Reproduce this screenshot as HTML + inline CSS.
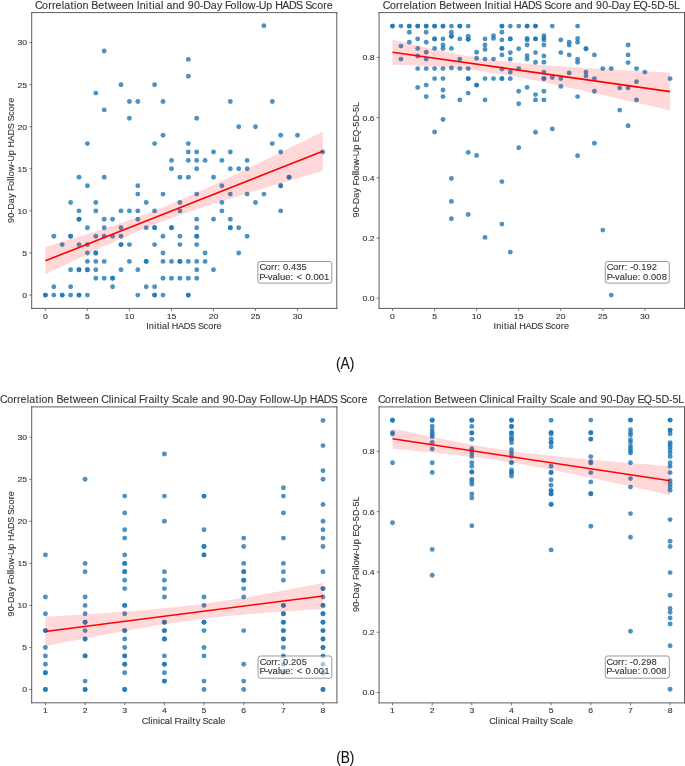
<!DOCTYPE html><html><head><meta charset="utf-8"><style>html,body{margin:0;padding:0;background:#fff;width:685px;height:766px;overflow:hidden}svg{display:block;will-change:transform}text{font-family:"Liberation Sans",sans-serif}</style></head><body><svg width="685" height="766" viewBox="0 0 685 766" font-family='"Liberation Sans", sans-serif'><rect width="685" height="766" fill="#fff"/><g fill="#1f77b4" fill-opacity="0.8"><circle cx="104.2" cy="51.0" r="2.45"/><circle cx="188.3" cy="59.4" r="2.45"/><circle cx="188.3" cy="76.3" r="2.45"/><circle cx="121.0" cy="84.7" r="2.45"/><circle cx="154.6" cy="84.7" r="2.45"/><circle cx="95.8" cy="93.1" r="2.45"/><circle cx="129.4" cy="101.5" r="2.45"/><circle cx="137.8" cy="101.5" r="2.45"/><circle cx="163.0" cy="101.5" r="2.45"/><circle cx="104.2" cy="109.9" r="2.45"/><circle cx="129.4" cy="118.3" r="2.45"/><circle cx="163.0" cy="135.2" r="2.45"/><circle cx="87.4" cy="143.6" r="2.45"/><circle cx="154.6" cy="143.6" r="2.45"/><circle cx="188.3" cy="143.6" r="2.45"/><circle cx="188.3" cy="152.0" r="2.45"/><circle cx="171.5" cy="160.4" r="2.45"/><circle cx="188.3" cy="160.4" r="2.45"/><circle cx="263.9" cy="25.8" r="2.45"/><circle cx="230.3" cy="101.5" r="2.45"/><circle cx="272.3" cy="101.5" r="2.45"/><circle cx="196.7" cy="118.3" r="2.45"/><circle cx="238.7" cy="126.8" r="2.45"/><circle cx="255.5" cy="126.8" r="2.45"/><circle cx="280.7" cy="135.2" r="2.45"/><circle cx="297.5" cy="135.2" r="2.45"/><circle cx="272.3" cy="143.6" r="2.45"/><circle cx="196.7" cy="152.0" r="2.45"/><circle cx="213.5" cy="152.0" r="2.45"/><circle cx="230.3" cy="152.0" r="2.45"/><circle cx="280.7" cy="152.0" r="2.45"/><circle cx="322.7" cy="152.0" r="2.45"/><circle cx="196.7" cy="160.4" r="2.45"/><circle cx="205.1" cy="160.4" r="2.45"/><circle cx="221.9" cy="160.4" r="2.45"/><circle cx="247.1" cy="160.4" r="2.45"/><circle cx="171.5" cy="168.8" r="2.45"/><circle cx="79.0" cy="177.3" r="2.45"/><circle cx="104.2" cy="177.3" r="2.45"/><circle cx="179.9" cy="177.3" r="2.45"/><circle cx="188.3" cy="177.3" r="2.45"/><circle cx="87.4" cy="185.7" r="2.45"/><circle cx="137.8" cy="185.7" r="2.45"/><circle cx="137.8" cy="194.1" r="2.45"/><circle cx="163.0" cy="194.1" r="2.45"/><circle cx="70.6" cy="202.5" r="2.45"/><circle cx="95.8" cy="202.5" r="2.45"/><circle cx="146.2" cy="202.5" r="2.45"/><circle cx="179.9" cy="202.5" r="2.45"/><circle cx="79.0" cy="210.9" r="2.45"/><circle cx="95.8" cy="210.9" r="2.45"/><circle cx="121.0" cy="210.9" r="2.45"/><circle cx="129.4" cy="210.9" r="2.45"/><circle cx="137.8" cy="210.9" r="2.45"/><circle cx="154.6" cy="210.9" r="2.45"/><circle cx="179.9" cy="210.9" r="2.45"/><circle cx="79.0" cy="219.3" r="2.45"/><circle cx="79.0" cy="219.3" r="2.45"/><circle cx="104.2" cy="219.3" r="2.45"/><circle cx="112.6" cy="219.3" r="2.45"/><circle cx="137.8" cy="219.3" r="2.45"/><circle cx="87.4" cy="227.8" r="2.45"/><circle cx="104.2" cy="227.8" r="2.45"/><circle cx="121.0" cy="227.8" r="2.45"/><circle cx="146.2" cy="227.8" r="2.45"/><circle cx="154.6" cy="227.8" r="2.45"/><circle cx="154.6" cy="227.8" r="2.45"/><circle cx="171.5" cy="227.8" r="2.45"/><circle cx="171.5" cy="227.8" r="2.45"/><circle cx="53.8" cy="236.2" r="2.45"/><circle cx="70.6" cy="236.2" r="2.45"/><circle cx="70.6" cy="236.2" r="2.45"/><circle cx="95.8" cy="236.2" r="2.45"/><circle cx="104.2" cy="236.2" r="2.45"/><circle cx="112.6" cy="236.2" r="2.45"/><circle cx="121.0" cy="236.2" r="2.45"/><circle cx="163.0" cy="236.2" r="2.45"/><circle cx="179.9" cy="236.2" r="2.45"/><circle cx="62.2" cy="244.6" r="2.45"/><circle cx="79.0" cy="244.6" r="2.45"/><circle cx="87.4" cy="244.6" r="2.45"/><circle cx="121.0" cy="244.6" r="2.45"/><circle cx="121.0" cy="244.6" r="2.45"/><circle cx="129.4" cy="244.6" r="2.45"/><circle cx="154.6" cy="244.6" r="2.45"/><circle cx="179.9" cy="244.6" r="2.45"/><circle cx="87.4" cy="253.0" r="2.45"/><circle cx="95.8" cy="253.0" r="2.45"/><circle cx="95.8" cy="253.0" r="2.45"/><circle cx="163.0" cy="253.0" r="2.45"/><circle cx="87.4" cy="261.4" r="2.45"/><circle cx="95.8" cy="261.4" r="2.45"/><circle cx="104.2" cy="261.4" r="2.45"/><circle cx="129.4" cy="261.4" r="2.45"/><circle cx="146.2" cy="261.4" r="2.45"/><circle cx="146.2" cy="261.4" r="2.45"/><circle cx="163.0" cy="261.4" r="2.45"/><circle cx="171.5" cy="261.4" r="2.45"/><circle cx="179.9" cy="261.4" r="2.45"/><circle cx="179.9" cy="261.4" r="2.45"/><circle cx="188.3" cy="261.4" r="2.45"/><circle cx="70.6" cy="269.8" r="2.45"/><circle cx="79.0" cy="269.8" r="2.45"/><circle cx="79.0" cy="269.8" r="2.45"/><circle cx="87.4" cy="269.8" r="2.45"/><circle cx="87.4" cy="269.8" r="2.45"/><circle cx="95.8" cy="269.8" r="2.45"/><circle cx="121.0" cy="269.8" r="2.45"/><circle cx="137.8" cy="269.8" r="2.45"/><circle cx="95.8" cy="278.3" r="2.45"/><circle cx="104.2" cy="278.3" r="2.45"/><circle cx="112.6" cy="278.3" r="2.45"/><circle cx="112.6" cy="278.3" r="2.45"/><circle cx="163.0" cy="278.3" r="2.45"/><circle cx="171.5" cy="278.3" r="2.45"/><circle cx="179.9" cy="278.3" r="2.45"/><circle cx="188.3" cy="278.3" r="2.45"/><circle cx="53.8" cy="286.7" r="2.45"/><circle cx="70.6" cy="286.7" r="2.45"/><circle cx="112.6" cy="286.7" r="2.45"/><circle cx="146.2" cy="286.7" r="2.45"/><circle cx="154.6" cy="286.7" r="2.45"/><circle cx="45.4" cy="295.1" r="2.45"/><circle cx="45.4" cy="295.1" r="2.45"/><circle cx="53.8" cy="295.1" r="2.45"/><circle cx="62.2" cy="295.1" r="2.45"/><circle cx="62.2" cy="295.1" r="2.45"/><circle cx="70.6" cy="295.1" r="2.45"/><circle cx="79.0" cy="295.1" r="2.45"/><circle cx="79.0" cy="295.1" r="2.45"/><circle cx="87.4" cy="295.1" r="2.45"/><circle cx="137.8" cy="295.1" r="2.45"/><circle cx="154.6" cy="295.1" r="2.45"/><circle cx="154.6" cy="295.1" r="2.45"/><circle cx="163.0" cy="295.1" r="2.45"/><circle cx="188.3" cy="295.1" r="2.45"/><circle cx="188.3" cy="295.1" r="2.45"/><circle cx="196.7" cy="168.8" r="2.45"/><circle cx="230.3" cy="168.8" r="2.45"/><circle cx="238.7" cy="168.8" r="2.45"/><circle cx="247.1" cy="168.8" r="2.45"/><circle cx="213.5" cy="177.3" r="2.45"/><circle cx="289.1" cy="177.3" r="2.45"/><circle cx="289.1" cy="177.3" r="2.45"/><circle cx="221.9" cy="185.7" r="2.45"/><circle cx="280.7" cy="185.7" r="2.45"/><circle cx="280.7" cy="185.7" r="2.45"/><circle cx="196.7" cy="194.1" r="2.45"/><circle cx="230.3" cy="194.1" r="2.45"/><circle cx="247.1" cy="194.1" r="2.45"/><circle cx="263.9" cy="194.1" r="2.45"/><circle cx="221.9" cy="202.5" r="2.45"/><circle cx="255.5" cy="202.5" r="2.45"/><circle cx="221.9" cy="210.9" r="2.45"/><circle cx="280.7" cy="210.9" r="2.45"/><circle cx="196.7" cy="219.3" r="2.45"/><circle cx="213.5" cy="219.3" r="2.45"/><circle cx="230.3" cy="219.3" r="2.45"/><circle cx="196.7" cy="227.8" r="2.45"/><circle cx="230.3" cy="227.8" r="2.45"/><circle cx="230.3" cy="227.8" r="2.45"/><circle cx="238.7" cy="227.8" r="2.45"/><circle cx="196.7" cy="236.2" r="2.45"/><circle cx="196.7" cy="236.2" r="2.45"/><circle cx="247.1" cy="236.2" r="2.45"/><circle cx="196.7" cy="244.6" r="2.45"/><circle cx="205.1" cy="253.0" r="2.45"/><circle cx="238.7" cy="253.0" r="2.45"/><circle cx="196.7" cy="261.4" r="2.45"/><circle cx="205.1" cy="261.4" r="2.45"/><circle cx="196.7" cy="269.8" r="2.45"/><circle cx="213.5" cy="269.8" r="2.45"/><circle cx="196.7" cy="278.3" r="2.45"/></g><path d="M45.38,247.03 L52.31,244.93 L59.25,242.83 L66.18,240.70 L73.12,238.56 L80.05,236.40 L86.98,234.22 L93.92,232.01 L100.85,229.77 L107.79,227.50 L114.72,225.18 L121.66,222.81 L128.59,220.38 L135.52,217.89 L142.46,215.33 L149.39,212.70 L156.33,209.98 L163.26,207.18 L170.19,204.31 L177.13,201.36 L184.06,198.33 L191.00,195.25 L197.93,192.11 L204.86,188.93 L211.80,185.71 L218.73,182.45 L225.67,179.16 L232.60,175.85 L239.54,172.51 L246.47,169.16 L253.40,165.80 L260.34,162.42 L267.27,159.02 L274.21,155.62 L281.14,152.21 L288.07,148.80 L295.01,145.37 L301.94,141.94 L308.88,138.51 L315.81,135.07 L322.74,131.62 L322.74,171.02 L315.81,173.05 L308.88,175.08 L301.94,177.12 L295.01,179.16 L288.07,181.20 L281.14,183.26 L274.21,185.32 L267.27,187.39 L260.34,189.47 L253.40,191.56 L246.47,193.67 L239.54,195.79 L232.60,197.93 L225.67,200.09 L218.73,202.27 L211.80,204.49 L204.86,206.73 L197.93,209.02 L191.00,211.36 L184.06,213.75 L177.13,216.20 L170.19,218.72 L163.26,221.31 L156.33,223.99 L149.39,226.74 L142.46,229.58 L135.52,232.49 L128.59,235.47 L121.66,238.52 L114.72,241.62 L107.79,244.77 L100.85,247.97 L93.92,251.20 L86.98,254.47 L80.05,257.76 L73.12,261.07 L66.18,264.40 L59.25,267.75 L52.31,271.11 L45.38,274.49 Z" fill="#ff0000" fill-opacity="0.15"/><line x1="45.38" y1="260.76" x2="322.74" y2="151.32" stroke="#ff0000" stroke-width="1.6"/><path d="M31.7,12.1 V308.9 M336.8,12.1 V308.9 M31.2,12.6 H337.3 M31.2,308.4 H337.3" fill="none" stroke="#555" stroke-width="0.95"/><line x1="45.38" y1="308.4" x2="45.38" y2="310.79999999999995" stroke="#555" stroke-width="0.8"/><text x="39.82" y="319.0" font-size="8.014" fill="#333333" stroke="#333333" stroke-width="0.1" transform="scale(1.0792,1)">0</text><line x1="87.41" y1="308.4" x2="87.41" y2="310.79999999999995" stroke="#555" stroke-width="0.8"/><text x="78.76" y="319.0" font-size="8.014" fill="#333333" stroke="#333333" stroke-width="0.1" transform="scale(1.0792,1)">5</text><line x1="129.43" y1="308.4" x2="129.43" y2="310.79999999999995" stroke="#555" stroke-width="0.8"/><text x="115.47 119.93" y="319.0" font-size="8.014" fill="#333333" stroke="#333333" stroke-width="0.1" transform="scale(1.0792,1)">10</text><line x1="171.45" y1="308.4" x2="171.45" y2="310.79999999999995" stroke="#555" stroke-width="0.8"/><text x="154.41 158.87" y="319.0" font-size="8.014" fill="#333333" stroke="#333333" stroke-width="0.1" transform="scale(1.0792,1)">15</text><line x1="213.48" y1="308.4" x2="213.48" y2="310.79999999999995" stroke="#555" stroke-width="0.8"/><text x="193.35 197.81" y="319.0" font-size="8.014" fill="#333333" stroke="#333333" stroke-width="0.1" transform="scale(1.0792,1)">20</text><line x1="255.50" y1="308.4" x2="255.50" y2="310.79999999999995" stroke="#555" stroke-width="0.8"/><text x="232.29 236.75" y="319.0" font-size="8.014" fill="#333333" stroke="#333333" stroke-width="0.1" transform="scale(1.0792,1)">25</text><line x1="297.53" y1="308.4" x2="297.53" y2="310.79999999999995" stroke="#555" stroke-width="0.8"/><text x="271.23 275.69" y="319.0" font-size="8.014" fill="#333333" stroke="#333333" stroke-width="0.1" transform="scale(1.0792,1)">30</text><line x1="29.3" y1="295.10" x2="31.7" y2="295.10" stroke="#555" stroke-width="0.8"/><text x="20.70" y="298.00" font-size="8.014" fill="#333333" stroke="#333333" stroke-width="0.1" transform="scale(1.0792,1)">0</text><line x1="29.3" y1="253.02" x2="31.7" y2="253.02" stroke="#555" stroke-width="0.8"/><text x="20.70" y="255.92" font-size="8.014" fill="#333333" stroke="#333333" stroke-width="0.1" transform="scale(1.0792,1)">5</text><line x1="29.3" y1="210.93" x2="31.7" y2="210.93" stroke="#555" stroke-width="0.8"/><text x="16.24 20.70" y="213.83" font-size="8.014" fill="#333333" stroke="#333333" stroke-width="0.1" transform="scale(1.0792,1)">10</text><line x1="29.3" y1="168.85" x2="31.7" y2="168.85" stroke="#555" stroke-width="0.8"/><text x="16.24 20.70" y="171.75" font-size="8.014" fill="#333333" stroke="#333333" stroke-width="0.1" transform="scale(1.0792,1)">15</text><line x1="29.3" y1="126.76" x2="31.7" y2="126.76" stroke="#555" stroke-width="0.8"/><text x="16.24 20.70" y="129.66" font-size="8.014" fill="#333333" stroke="#333333" stroke-width="0.1" transform="scale(1.0792,1)">20</text><line x1="29.3" y1="84.68" x2="31.7" y2="84.68" stroke="#555" stroke-width="0.8"/><text x="16.24 20.70" y="87.58" font-size="8.014" fill="#333333" stroke="#333333" stroke-width="0.1" transform="scale(1.0792,1)">25</text><line x1="29.3" y1="42.59" x2="31.7" y2="42.59" stroke="#555" stroke-width="0.8"/><text x="16.24 20.70" y="45.49" font-size="8.014" fill="#333333" stroke="#333333" stroke-width="0.1" transform="scale(1.0792,1)">30</text><text x="141.94 144.47 149.63 152.09 155.04 157.17 162.24 164.41 166.77 172.82 178.45 184.37 189.94 192.07 197.60 202.05 207.17 210.15" y="329.0" font-size="8.830" fill="#333333" stroke="#333333" stroke-width="0.1" transform="scale(1.0304,1)">Initial HADS Score</text><g transform="translate(13.75,160.45) rotate(-90)"><text x="-61.48 -56.28 -51.22 -48.31 -41.93 -36.76 -32.06 -29.88 -25.08 -19.97 -17.69 -15.53 -10.42 -3.89 -1.14 5.18 10.30 12.71 18.83 24.53 30.51 36.12 38.30 43.88 48.38 53.54 56.57" y="0" font-size="8.830" fill="#333333" stroke="#333333" stroke-width="0.1" transform="scale(1.0191,1)">90-Day Follow-Up HADS Score</text></g><text x="33.38 40.26 46.11 49.73 53.11 58.93 61.32 67.37 70.74 73.13 78.86 84.66 87.29 93.85 99.91 103.21 110.65 116.32 122.06 127.87 130.69 133.54 139.44 142.24 145.61 148.00 153.81 156.26 159.13 164.87 170.70 176.51 179.48 185.34 191.07 194.28 201.50 207.33 212.65 215.06 220.47 226.27 228.83 231.22 236.96 244.37 247.41 254.55 260.35 263.01 269.90 276.31 283.06 289.43 291.83 298.14 303.20 309.04 312.43" y="8.7" font-size="10.208" fill="#333333" stroke="#333333" stroke-width="0.1" transform="scale(1.0461,1)">Correlation Between Initial and 90-Day Follow-Up HADS Score</text><rect x="257.9" y="261.5" width="73.90000000000003" height="21.600000000000023" rx="2.2" fill="#fff" fill-opacity="0.5" stroke="#000" stroke-opacity="0.5" stroke-width="0.8"/><text x="245.10 250.99 256.00 259.09 262.14 264.72 267.24 272.22 274.75 279.75 284.76" y="270.3" font-size="8.830" fill="#333333" stroke="#333333" stroke-width="0.1" transform="scale(1.0589,1)">Corr: 0.435</text><text x="241.56 246.60 249.35 253.78 258.71 260.77 265.62 270.54 273.08 276.21 282.05 284.52 289.45 291.92 296.86 301.79" y="279.6" font-size="8.830" fill="#333333" stroke="#333333" stroke-width="0.1" transform="scale(1.0736,1)">P-value: &lt; 0.001</text><g fill="#1f77b4" fill-opacity="0.8"><circle cx="392.5" cy="26.1" r="2.45"/><circle cx="392.5" cy="26.1" r="2.45"/><circle cx="400.9" cy="26.1" r="2.45"/><circle cx="400.9" cy="46.1" r="2.45"/><circle cx="400.9" cy="59.1" r="2.45"/><circle cx="409.3" cy="26.1" r="2.45"/><circle cx="409.3" cy="26.1" r="2.45"/><circle cx="409.3" cy="32.3" r="2.45"/><circle cx="409.3" cy="42.2" r="2.45"/><circle cx="417.7" cy="26.1" r="2.45"/><circle cx="417.7" cy="26.1" r="2.45"/><circle cx="417.7" cy="38.9" r="2.45"/><circle cx="417.7" cy="48.4" r="2.45"/><circle cx="417.7" cy="56.0" r="2.45"/><circle cx="417.7" cy="68.6" r="2.45"/><circle cx="417.7" cy="87.4" r="2.45"/><circle cx="426.2" cy="26.1" r="2.45"/><circle cx="426.2" cy="26.1" r="2.45"/><circle cx="426.2" cy="32.3" r="2.45"/><circle cx="426.2" cy="42.2" r="2.45"/><circle cx="426.2" cy="52.2" r="2.45"/><circle cx="426.2" cy="59.1" r="2.45"/><circle cx="426.2" cy="68.6" r="2.45"/><circle cx="426.2" cy="85.1" r="2.45"/><circle cx="426.2" cy="96.6" r="2.45"/><circle cx="434.6" cy="26.1" r="2.45"/><circle cx="434.6" cy="26.1" r="2.45"/><circle cx="434.6" cy="38.9" r="2.45"/><circle cx="434.6" cy="38.9" r="2.45"/><circle cx="434.6" cy="48.4" r="2.45"/><circle cx="434.6" cy="68.6" r="2.45"/><circle cx="434.6" cy="78.6" r="2.45"/><circle cx="434.6" cy="132.0" r="2.45"/><circle cx="443.0" cy="26.1" r="2.45"/><circle cx="443.0" cy="26.1" r="2.45"/><circle cx="443.0" cy="38.9" r="2.45"/><circle cx="443.0" cy="45.0" r="2.45"/><circle cx="443.0" cy="48.4" r="2.45"/><circle cx="443.0" cy="68.6" r="2.45"/><circle cx="443.0" cy="78.6" r="2.45"/><circle cx="443.0" cy="90.0" r="2.45"/><circle cx="443.0" cy="96.6" r="2.45"/><circle cx="443.0" cy="119.5" r="2.45"/><circle cx="451.4" cy="26.1" r="2.45"/><circle cx="451.4" cy="32.3" r="2.45"/><circle cx="451.4" cy="36.2" r="2.45"/><circle cx="451.4" cy="36.2" r="2.45"/><circle cx="451.4" cy="48.4" r="2.45"/><circle cx="451.4" cy="68.0" r="2.45"/><circle cx="451.4" cy="178.5" r="2.45"/><circle cx="451.4" cy="201.4" r="2.45"/><circle cx="451.4" cy="218.7" r="2.45"/><circle cx="459.8" cy="26.1" r="2.45"/><circle cx="459.8" cy="26.1" r="2.45"/><circle cx="459.8" cy="38.9" r="2.45"/><circle cx="459.8" cy="59.1" r="2.45"/><circle cx="459.8" cy="68.6" r="2.45"/><circle cx="459.8" cy="99.9" r="2.45"/><circle cx="468.2" cy="26.1" r="2.45"/><circle cx="468.2" cy="36.2" r="2.45"/><circle cx="468.2" cy="39.3" r="2.45"/><circle cx="468.2" cy="39.3" r="2.45"/><circle cx="468.2" cy="68.6" r="2.45"/><circle cx="468.2" cy="78.6" r="2.45"/><circle cx="468.2" cy="78.6" r="2.45"/><circle cx="468.2" cy="93.1" r="2.45"/><circle cx="468.2" cy="152.4" r="2.45"/><circle cx="468.2" cy="214.5" r="2.45"/><circle cx="476.6" cy="52.2" r="2.45"/><circle cx="476.6" cy="58.3" r="2.45"/><circle cx="476.6" cy="85.1" r="2.45"/><circle cx="476.6" cy="85.1" r="2.45"/><circle cx="476.6" cy="155.5" r="2.45"/><circle cx="485.0" cy="38.9" r="2.45"/><circle cx="485.0" cy="45.0" r="2.45"/><circle cx="485.0" cy="49.4" r="2.45"/><circle cx="485.0" cy="59.1" r="2.45"/><circle cx="485.0" cy="78.6" r="2.45"/><circle cx="485.0" cy="99.9" r="2.45"/><circle cx="485.0" cy="237.4" r="2.45"/><circle cx="493.5" cy="35.6" r="2.45"/><circle cx="493.5" cy="38.4" r="2.45"/><circle cx="493.5" cy="59.1" r="2.45"/><circle cx="493.5" cy="78.6" r="2.45"/><circle cx="501.9" cy="26.1" r="2.45"/><circle cx="501.9" cy="26.1" r="2.45"/><circle cx="501.9" cy="32.3" r="2.45"/><circle cx="501.9" cy="39.9" r="2.45"/><circle cx="501.9" cy="48.4" r="2.45"/><circle cx="501.9" cy="48.4" r="2.45"/><circle cx="501.9" cy="54.9" r="2.45"/><circle cx="501.9" cy="69.0" r="2.45"/><circle cx="501.9" cy="78.6" r="2.45"/><circle cx="501.9" cy="78.6" r="2.45"/><circle cx="501.9" cy="181.6" r="2.45"/><circle cx="501.9" cy="224.1" r="2.45"/><circle cx="510.3" cy="26.1" r="2.45"/><circle cx="510.3" cy="38.9" r="2.45"/><circle cx="510.3" cy="38.9" r="2.45"/><circle cx="510.3" cy="52.6" r="2.45"/><circle cx="510.3" cy="59.1" r="2.45"/><circle cx="510.3" cy="72.1" r="2.45"/><circle cx="510.3" cy="78.6" r="2.45"/><circle cx="510.3" cy="252.1" r="2.45"/><circle cx="518.7" cy="26.1" r="2.45"/><circle cx="518.7" cy="48.7" r="2.45"/><circle cx="518.7" cy="68.6" r="2.45"/><circle cx="518.7" cy="91.3" r="2.45"/><circle cx="518.7" cy="103.8" r="2.45"/><circle cx="518.7" cy="147.7" r="2.45"/><circle cx="527.1" cy="26.1" r="2.45"/><circle cx="527.1" cy="26.1" r="2.45"/><circle cx="527.1" cy="38.4" r="2.45"/><circle cx="527.1" cy="39.9" r="2.45"/><circle cx="527.1" cy="45.0" r="2.45"/><circle cx="527.1" cy="55.7" r="2.45"/><circle cx="527.1" cy="59.1" r="2.45"/><circle cx="527.1" cy="87.4" r="2.45"/><circle cx="535.5" cy="26.1" r="2.45"/><circle cx="535.5" cy="26.1" r="2.45"/><circle cx="535.5" cy="38.9" r="2.45"/><circle cx="535.5" cy="38.9" r="2.45"/><circle cx="535.5" cy="52.6" r="2.45"/><circle cx="535.5" cy="62.2" r="2.45"/><circle cx="535.5" cy="94.6" r="2.45"/><circle cx="535.5" cy="99.9" r="2.45"/><circle cx="535.5" cy="132.3" r="2.45"/><circle cx="543.9" cy="35.6" r="2.45"/><circle cx="543.9" cy="38.1" r="2.45"/><circle cx="543.9" cy="39.9" r="2.45"/><circle cx="543.9" cy="45.0" r="2.45"/><circle cx="543.9" cy="56.0" r="2.45"/><circle cx="543.9" cy="62.2" r="2.45"/><circle cx="543.9" cy="72.1" r="2.45"/><circle cx="543.9" cy="78.6" r="2.45"/><circle cx="543.9" cy="78.6" r="2.45"/><circle cx="543.9" cy="91.3" r="2.45"/><circle cx="543.9" cy="99.9" r="2.45"/><circle cx="552.3" cy="26.1" r="2.45"/><circle cx="552.3" cy="77.5" r="2.45"/><circle cx="552.3" cy="128.9" r="2.45"/><circle cx="560.8" cy="39.9" r="2.45"/><circle cx="560.8" cy="52.6" r="2.45"/><circle cx="560.8" cy="78.6" r="2.45"/><circle cx="560.8" cy="86.4" r="2.45"/><circle cx="569.2" cy="42.2" r="2.45"/><circle cx="569.2" cy="45.0" r="2.45"/><circle cx="569.2" cy="54.9" r="2.45"/><circle cx="569.2" cy="72.9" r="2.45"/><circle cx="577.6" cy="26.1" r="2.45"/><circle cx="577.6" cy="38.4" r="2.45"/><circle cx="577.6" cy="42.2" r="2.45"/><circle cx="577.6" cy="59.1" r="2.45"/><circle cx="577.6" cy="62.2" r="2.45"/><circle cx="577.6" cy="96.6" r="2.45"/><circle cx="577.6" cy="155.8" r="2.45"/><circle cx="586.0" cy="48.7" r="2.45"/><circle cx="586.0" cy="48.7" r="2.45"/><circle cx="586.0" cy="72.1" r="2.45"/><circle cx="586.0" cy="75.9" r="2.45"/><circle cx="594.4" cy="54.9" r="2.45"/><circle cx="594.4" cy="78.6" r="2.45"/><circle cx="594.4" cy="91.3" r="2.45"/><circle cx="594.4" cy="143.2" r="2.45"/><circle cx="602.8" cy="68.6" r="2.45"/><circle cx="602.8" cy="230.1" r="2.45"/><circle cx="611.2" cy="68.6" r="2.45"/><circle cx="611.2" cy="295.1" r="2.45"/><circle cx="619.7" cy="87.9" r="2.45"/><circle cx="619.7" cy="110.1" r="2.45"/><circle cx="628.1" cy="45.0" r="2.45"/><circle cx="628.1" cy="54.9" r="2.45"/><circle cx="628.1" cy="62.6" r="2.45"/><circle cx="628.1" cy="87.9" r="2.45"/><circle cx="628.1" cy="125.8" r="2.45"/><circle cx="636.5" cy="68.6" r="2.45"/><circle cx="636.5" cy="81.8" r="2.45"/><circle cx="636.5" cy="99.9" r="2.45"/><circle cx="644.9" cy="72.1" r="2.45"/><circle cx="670.1" cy="78.6" r="2.45"/></g><path d="M392.50,39.67 L399.44,41.34 L406.38,42.99 L413.32,44.62 L420.26,46.23 L427.20,47.81 L434.14,49.36 L441.09,50.87 L448.03,52.33 L454.97,53.73 L461.91,55.06 L468.85,56.32 L475.79,57.48 L482.73,58.55 L489.67,59.53 L496.61,60.43 L503.55,61.27 L510.49,62.05 L517.43,62.77 L524.37,63.44 L531.31,64.06 L538.26,64.65 L545.20,65.20 L552.14,65.72 L559.08,66.22 L566.02,66.70 L572.96,67.16 L579.90,67.61 L586.84,68.04 L593.78,68.46 L600.72,68.87 L607.66,69.27 L614.60,69.67 L621.54,70.05 L628.48,70.44 L635.43,70.81 L642.37,71.18 L649.31,71.55 L656.25,71.92 L663.19,72.28 L670.13,72.63 L670.13,110.55 L663.19,108.94 L656.25,107.33 L649.31,105.72 L642.37,104.12 L635.43,102.52 L628.48,100.92 L621.54,99.33 L614.60,97.75 L607.66,96.17 L600.72,94.60 L593.78,93.04 L586.84,91.49 L579.90,89.95 L572.96,88.43 L566.02,86.92 L559.08,85.42 L552.14,83.95 L545.20,82.50 L538.26,81.08 L531.31,79.70 L524.37,78.35 L517.43,77.05 L510.49,75.80 L503.55,74.60 L496.61,73.47 L489.67,72.40 L482.73,71.41 L475.79,70.51 L468.85,69.70 L461.91,68.98 L454.97,68.34 L448.03,67.77 L441.09,67.26 L434.14,66.80 L427.20,66.38 L420.26,65.99 L413.32,65.62 L406.38,65.29 L399.44,64.97 L392.50,64.66 Z" fill="#ff0000" fill-opacity="0.15"/><line x1="392.50" y1="52.17" x2="670.13" y2="91.59" stroke="#ff0000" stroke-width="1.6"/><path d="M379.05,12.1 V308.9 M684.5,12.1 V308.9 M378.55,12.6 H685.0 M378.55,308.4 H685.0" fill="none" stroke="#555" stroke-width="0.95"/><line x1="392.50" y1="308.4" x2="392.50" y2="310.79999999999995" stroke="#555" stroke-width="0.8"/><text x="361.46" y="319.0" font-size="8.014" fill="#333333" stroke="#333333" stroke-width="0.1" transform="scale(1.0792,1)">0</text><line x1="434.56" y1="308.4" x2="434.56" y2="310.79999999999995" stroke="#555" stroke-width="0.8"/><text x="400.43" y="319.0" font-size="8.014" fill="#333333" stroke="#333333" stroke-width="0.1" transform="scale(1.0792,1)">5</text><line x1="476.63" y1="308.4" x2="476.63" y2="310.79999999999995" stroke="#555" stroke-width="0.8"/><text x="437.18 441.64" y="319.0" font-size="8.014" fill="#333333" stroke="#333333" stroke-width="0.1" transform="scale(1.0792,1)">10</text><line x1="518.70" y1="308.4" x2="518.70" y2="310.79999999999995" stroke="#555" stroke-width="0.8"/><text x="476.16 480.61" y="319.0" font-size="8.014" fill="#333333" stroke="#333333" stroke-width="0.1" transform="scale(1.0792,1)">15</text><line x1="560.76" y1="308.4" x2="560.76" y2="310.79999999999995" stroke="#555" stroke-width="0.8"/><text x="515.13 519.59" y="319.0" font-size="8.014" fill="#333333" stroke="#333333" stroke-width="0.1" transform="scale(1.0792,1)">20</text><line x1="602.83" y1="308.4" x2="602.83" y2="310.79999999999995" stroke="#555" stroke-width="0.8"/><text x="554.11 558.57" y="319.0" font-size="8.014" fill="#333333" stroke="#333333" stroke-width="0.1" transform="scale(1.0792,1)">25</text><line x1="644.89" y1="308.4" x2="644.89" y2="310.79999999999995" stroke="#555" stroke-width="0.8"/><text x="593.09 597.55" y="319.0" font-size="8.014" fill="#333333" stroke="#333333" stroke-width="0.1" transform="scale(1.0792,1)">30</text><line x1="376.65000000000003" y1="298.20" x2="379.05" y2="298.20" stroke="#555" stroke-width="0.8"/><text x="335.95 340.41 342.63" y="301.10" font-size="8.014" fill="#333333" stroke="#333333" stroke-width="0.1" transform="scale(1.0793,1)">0.0</text><line x1="376.65000000000003" y1="238.01" x2="379.05" y2="238.01" stroke="#555" stroke-width="0.8"/><text x="335.95 340.41 342.63" y="240.91" font-size="8.014" fill="#333333" stroke="#333333" stroke-width="0.1" transform="scale(1.0793,1)">0.2</text><line x1="376.65000000000003" y1="177.82" x2="379.05" y2="177.82" stroke="#555" stroke-width="0.8"/><text x="335.95 340.41 342.63" y="180.72" font-size="8.014" fill="#333333" stroke="#333333" stroke-width="0.1" transform="scale(1.0793,1)">0.4</text><line x1="376.65000000000003" y1="117.62" x2="379.05" y2="117.62" stroke="#555" stroke-width="0.8"/><text x="335.95 340.41 342.63" y="120.52" font-size="8.014" fill="#333333" stroke="#333333" stroke-width="0.1" transform="scale(1.0793,1)">0.6</text><line x1="376.65000000000003" y1="57.43" x2="379.05" y2="57.43" stroke="#555" stroke-width="0.8"/><text x="335.95 340.41 342.63" y="60.33" font-size="8.014" fill="#333333" stroke="#333333" stroke-width="0.1" transform="scale(1.0793,1)">0.8</text><text x="479.05 481.57 486.73 489.19 492.15 494.27 499.35 501.51 503.87 509.92 515.55 521.47 527.04 529.18 534.70 539.15 544.27 547.25" y="329.0" font-size="8.830" fill="#333333" stroke="#333333" stroke-width="0.1" transform="scale(1.0304,1)">Initial HADS Score</text><g transform="translate(358.8,159.7) rotate(-90)"><text x="-56.53 -51.36 -46.32 -43.44 -37.08 -31.93 -27.25 -25.09 -20.31 -15.22 -12.96 -10.82 -5.74 0.78 3.50 9.79 14.90 17.04 22.32 29.18 32.25 37.23 43.55 46.62 51.47" y="0" font-size="8.830" fill="#333333" stroke="#333333" stroke-width="0.1" transform="scale(1.0242,1)">90-Day Follow-Up EQ-5D-5L</text></g><text x="367.05 373.95 379.81 383.44 386.84 392.67 395.07 401.14 404.51 406.92 412.67 418.48 421.13 427.70 433.78 437.10 444.56 450.24 456.01 461.82 464.65 467.52 473.43 476.24 479.62 482.03 487.84 490.31 492.98 499.90 506.33 513.10 519.48 521.89 528.21 533.29 539.15 542.55 548.28 551.16 556.91 562.77 568.59 571.57 577.45 583.19 586.43 593.66 599.51 604.84 607.24 613.23 621.05 624.52 630.17 637.37 640.84 646.35" y="8.7" font-size="10.208" fill="#333333" stroke="#333333" stroke-width="0.1" transform="scale(1.0428,1)">Correlation Between Initial HADS Score and 90-Day EQ-5D-5L</text><rect x="605.3" y="261.5" width="64.0" height="21.600000000000023" rx="2.2" fill="#fff" fill-opacity="0.5" stroke="#000" stroke-opacity="0.5" stroke-width="0.8"/><text x="574.29 580.19 585.21 588.31 591.37 593.95 596.38 599.32 604.31 606.85 611.86 616.88" y="270.3" font-size="8.830" fill="#333333" stroke="#333333" stroke-width="0.1" transform="scale(1.0566,1)">Corr: -0.192</text><text x="578.86 584.00 586.83 591.37 596.38 598.53 603.50 608.51 611.11 613.67 618.69 621.26 626.31 631.37" y="279.6" font-size="8.830" fill="#333333" stroke="#333333" stroke-width="0.1" transform="scale(1.0480,1)">P-value: 0.008</text><g fill="#1f77b4" fill-opacity="0.8"><circle cx="164.4" cy="454.0" r="2.45"/><circle cx="85.1" cy="479.2" r="2.45"/><circle cx="124.7" cy="496.1" r="2.45"/><circle cx="164.4" cy="496.1" r="2.45"/><circle cx="124.7" cy="512.9" r="2.45"/><circle cx="164.4" cy="521.3" r="2.45"/><circle cx="124.7" cy="529.7" r="2.45"/><circle cx="124.7" cy="538.1" r="2.45"/><circle cx="45.4" cy="554.9" r="2.45"/><circle cx="124.7" cy="554.9" r="2.45"/><circle cx="323.0" cy="420.4" r="2.45"/><circle cx="323.0" cy="445.6" r="2.45"/><circle cx="323.0" cy="470.8" r="2.45"/><circle cx="323.0" cy="479.2" r="2.45"/><circle cx="283.4" cy="487.7" r="2.45"/><circle cx="204.0" cy="496.1" r="2.45"/><circle cx="204.0" cy="496.1" r="2.45"/><circle cx="283.4" cy="496.1" r="2.45"/><circle cx="323.0" cy="504.5" r="2.45"/><circle cx="283.4" cy="512.9" r="2.45"/><circle cx="323.0" cy="521.3" r="2.45"/><circle cx="204.0" cy="529.7" r="2.45"/><circle cx="323.0" cy="529.7" r="2.45"/><circle cx="243.7" cy="538.1" r="2.45"/><circle cx="283.4" cy="538.1" r="2.45"/><circle cx="323.0" cy="538.1" r="2.45"/><circle cx="204.0" cy="546.5" r="2.45"/><circle cx="204.0" cy="546.5" r="2.45"/><circle cx="243.7" cy="546.5" r="2.45"/><circle cx="323.0" cy="546.5" r="2.45"/><circle cx="204.0" cy="554.9" r="2.45"/><circle cx="204.0" cy="554.9" r="2.45"/><circle cx="45.4" cy="597.0" r="2.45"/><circle cx="45.4" cy="613.8" r="2.45"/><circle cx="45.4" cy="630.6" r="2.45"/><circle cx="45.4" cy="630.6" r="2.45"/><circle cx="45.4" cy="647.5" r="2.45"/><circle cx="45.4" cy="655.9" r="2.45"/><circle cx="45.4" cy="664.3" r="2.45"/><circle cx="45.4" cy="672.7" r="2.45"/><circle cx="45.4" cy="672.7" r="2.45"/><circle cx="45.4" cy="689.5" r="2.45"/><circle cx="45.4" cy="689.5" r="2.45"/><circle cx="85.1" cy="563.4" r="2.45"/><circle cx="85.1" cy="571.8" r="2.45"/><circle cx="85.1" cy="597.0" r="2.45"/><circle cx="85.1" cy="605.4" r="2.45"/><circle cx="85.1" cy="613.8" r="2.45"/><circle cx="85.1" cy="622.2" r="2.45"/><circle cx="85.1" cy="622.2" r="2.45"/><circle cx="85.1" cy="630.6" r="2.45"/><circle cx="85.1" cy="639.0" r="2.45"/><circle cx="85.1" cy="639.0" r="2.45"/><circle cx="85.1" cy="655.9" r="2.45"/><circle cx="85.1" cy="655.9" r="2.45"/><circle cx="85.1" cy="681.1" r="2.45"/><circle cx="85.1" cy="689.5" r="2.45"/><circle cx="85.1" cy="689.5" r="2.45"/><circle cx="124.7" cy="563.4" r="2.45"/><circle cx="124.7" cy="563.4" r="2.45"/><circle cx="124.7" cy="571.8" r="2.45"/><circle cx="124.7" cy="571.8" r="2.45"/><circle cx="124.7" cy="580.2" r="2.45"/><circle cx="124.7" cy="588.6" r="2.45"/><circle cx="124.7" cy="605.4" r="2.45"/><circle cx="124.7" cy="605.4" r="2.45"/><circle cx="124.7" cy="613.8" r="2.45"/><circle cx="124.7" cy="630.6" r="2.45"/><circle cx="124.7" cy="630.6" r="2.45"/><circle cx="124.7" cy="639.0" r="2.45"/><circle cx="124.7" cy="647.5" r="2.45"/><circle cx="124.7" cy="655.9" r="2.45"/><circle cx="124.7" cy="655.9" r="2.45"/><circle cx="124.7" cy="664.3" r="2.45"/><circle cx="124.7" cy="664.3" r="2.45"/><circle cx="124.7" cy="672.7" r="2.45"/><circle cx="124.7" cy="689.5" r="2.45"/><circle cx="124.7" cy="689.5" r="2.45"/><circle cx="164.4" cy="571.8" r="2.45"/><circle cx="164.4" cy="580.2" r="2.45"/><circle cx="164.4" cy="588.6" r="2.45"/><circle cx="164.4" cy="597.0" r="2.45"/><circle cx="164.4" cy="622.2" r="2.45"/><circle cx="164.4" cy="622.2" r="2.45"/><circle cx="164.4" cy="630.6" r="2.45"/><circle cx="164.4" cy="630.6" r="2.45"/><circle cx="164.4" cy="639.0" r="2.45"/><circle cx="164.4" cy="639.0" r="2.45"/><circle cx="164.4" cy="655.9" r="2.45"/><circle cx="164.4" cy="664.3" r="2.45"/><circle cx="164.4" cy="664.3" r="2.45"/><circle cx="164.4" cy="672.7" r="2.45"/><circle cx="164.4" cy="681.1" r="2.45"/><circle cx="164.4" cy="681.1" r="2.45"/><circle cx="204.0" cy="597.0" r="2.45"/><circle cx="204.0" cy="605.4" r="2.45"/><circle cx="204.0" cy="622.2" r="2.45"/><circle cx="204.0" cy="622.2" r="2.45"/><circle cx="204.0" cy="630.6" r="2.45"/><circle cx="204.0" cy="647.5" r="2.45"/><circle cx="204.0" cy="655.9" r="2.45"/><circle cx="204.0" cy="681.1" r="2.45"/><circle cx="204.0" cy="689.5" r="2.45"/><circle cx="243.7" cy="563.4" r="2.45"/><circle cx="243.7" cy="571.8" r="2.45"/><circle cx="243.7" cy="571.8" r="2.45"/><circle cx="243.7" cy="580.2" r="2.45"/><circle cx="243.7" cy="580.2" r="2.45"/><circle cx="243.7" cy="588.6" r="2.45"/><circle cx="243.7" cy="597.0" r="2.45"/><circle cx="243.7" cy="630.6" r="2.45"/><circle cx="243.7" cy="664.3" r="2.45"/><circle cx="243.7" cy="681.1" r="2.45"/><circle cx="243.7" cy="689.5" r="2.45"/><circle cx="283.4" cy="563.4" r="2.45"/><circle cx="283.4" cy="571.8" r="2.45"/><circle cx="283.4" cy="580.2" r="2.45"/><circle cx="283.4" cy="605.4" r="2.45"/><circle cx="283.4" cy="605.4" r="2.45"/><circle cx="283.4" cy="613.8" r="2.45"/><circle cx="283.4" cy="613.8" r="2.45"/><circle cx="283.4" cy="622.2" r="2.45"/><circle cx="283.4" cy="622.2" r="2.45"/><circle cx="283.4" cy="630.6" r="2.45"/><circle cx="283.4" cy="630.6" r="2.45"/><circle cx="283.4" cy="639.0" r="2.45"/><circle cx="283.4" cy="639.0" r="2.45"/><circle cx="283.4" cy="647.5" r="2.45"/><circle cx="283.4" cy="655.9" r="2.45"/><circle cx="283.4" cy="664.3" r="2.45"/><circle cx="283.4" cy="672.7" r="2.45"/><circle cx="323.0" cy="571.8" r="2.45"/><circle cx="323.0" cy="588.6" r="2.45"/><circle cx="323.0" cy="588.6" r="2.45"/><circle cx="323.0" cy="597.0" r="2.45"/><circle cx="323.0" cy="605.4" r="2.45"/><circle cx="323.0" cy="605.4" r="2.45"/><circle cx="323.0" cy="613.8" r="2.45"/><circle cx="323.0" cy="613.8" r="2.45"/><circle cx="323.0" cy="622.2" r="2.45"/><circle cx="323.0" cy="622.2" r="2.45"/><circle cx="323.0" cy="630.6" r="2.45"/><circle cx="323.0" cy="630.6" r="2.45"/><circle cx="323.0" cy="639.0" r="2.45"/><circle cx="323.0" cy="639.0" r="2.45"/><circle cx="323.0" cy="647.5" r="2.45"/><circle cx="323.0" cy="647.5" r="2.45"/><circle cx="323.0" cy="655.9" r="2.45"/><circle cx="323.0" cy="664.3" r="2.45"/><circle cx="323.0" cy="672.7" r="2.45"/><circle cx="323.0" cy="689.5" r="2.45"/><circle cx="323.0" cy="689.5" r="2.45"/></g><path d="M45.40,616.78 L52.34,616.37 L59.28,615.96 L66.22,615.55 L73.16,615.12 L80.10,614.69 L87.04,614.25 L93.98,613.80 L100.92,613.33 L107.86,612.85 L114.81,612.36 L121.75,611.85 L128.69,611.32 L135.63,610.77 L142.57,610.20 L149.51,609.60 L156.45,608.97 L163.39,608.31 L170.33,607.61 L177.27,606.88 L184.21,606.11 L191.15,605.30 L198.09,604.45 L205.03,603.55 L211.97,602.60 L218.91,601.61 L225.85,600.57 L232.79,599.48 L239.73,598.36 L246.67,597.20 L253.61,596.01 L260.56,594.79 L267.50,593.54 L274.44,592.26 L281.38,590.97 L288.32,589.66 L295.26,588.33 L302.20,586.98 L309.14,585.62 L316.08,584.25 L323.02,582.87 L323.02,609.07 L316.08,609.47 L309.14,609.87 L302.20,610.29 L295.26,610.72 L288.32,611.16 L281.38,611.63 L274.44,612.11 L267.50,612.61 L260.56,613.13 L253.61,613.69 L246.67,614.27 L239.73,614.88 L232.79,615.54 L225.85,616.23 L218.91,616.96 L211.97,617.74 L205.03,618.57 L198.09,619.45 L191.15,620.37 L184.21,621.33 L177.27,622.34 L170.33,623.38 L163.39,624.46 L156.45,625.58 L149.51,626.72 L142.57,627.90 L135.63,629.10 L128.69,630.32 L121.75,631.57 L114.81,632.83 L107.86,634.11 L100.92,635.41 L93.98,636.72 L87.04,638.04 L80.10,639.38 L73.16,640.72 L66.22,642.07 L59.28,643.43 L52.34,644.79 L45.40,646.17 Z" fill="#ff0000" fill-opacity="0.15"/><line x1="45.40" y1="631.47" x2="323.02" y2="595.97" stroke="#ff0000" stroke-width="1.6"/><path d="M31.7,406.4 V703.3 M336.9,406.4 V703.3 M31.2,406.9 H337.4 M31.2,702.8 H337.4" fill="none" stroke="#555" stroke-width="0.95"/><line x1="45.40" y1="702.8" x2="45.40" y2="705.1999999999999" stroke="#555" stroke-width="0.8"/><text x="39.84" y="713.2" font-size="8.014" fill="#333333" stroke="#333333" stroke-width="0.1" transform="scale(1.0792,1)">1</text><line x1="85.06" y1="702.8" x2="85.06" y2="705.1999999999999" stroke="#555" stroke-width="0.8"/><text x="76.59" y="713.2" font-size="8.014" fill="#333333" stroke="#333333" stroke-width="0.1" transform="scale(1.0792,1)">2</text><line x1="124.72" y1="702.8" x2="124.72" y2="705.1999999999999" stroke="#555" stroke-width="0.8"/><text x="113.34" y="713.2" font-size="8.014" fill="#333333" stroke="#333333" stroke-width="0.1" transform="scale(1.0792,1)">3</text><line x1="164.38" y1="702.8" x2="164.38" y2="705.1999999999999" stroke="#555" stroke-width="0.8"/><text x="150.08" y="713.2" font-size="8.014" fill="#333333" stroke="#333333" stroke-width="0.1" transform="scale(1.0792,1)">4</text><line x1="204.04" y1="702.8" x2="204.04" y2="705.1999999999999" stroke="#555" stroke-width="0.8"/><text x="186.83" y="713.2" font-size="8.014" fill="#333333" stroke="#333333" stroke-width="0.1" transform="scale(1.0792,1)">5</text><line x1="243.70" y1="702.8" x2="243.70" y2="705.1999999999999" stroke="#555" stroke-width="0.8"/><text x="223.58" y="713.2" font-size="8.014" fill="#333333" stroke="#333333" stroke-width="0.1" transform="scale(1.0792,1)">6</text><line x1="283.36" y1="702.8" x2="283.36" y2="705.1999999999999" stroke="#555" stroke-width="0.8"/><text x="260.33" y="713.2" font-size="8.014" fill="#333333" stroke="#333333" stroke-width="0.1" transform="scale(1.0792,1)">7</text><line x1="323.02" y1="702.8" x2="323.02" y2="705.1999999999999" stroke="#555" stroke-width="0.8"/><text x="297.08" y="713.2" font-size="8.014" fill="#333333" stroke="#333333" stroke-width="0.1" transform="scale(1.0792,1)">8</text><line x1="29.3" y1="689.50" x2="31.7" y2="689.50" stroke="#555" stroke-width="0.8"/><text x="20.70" y="692.40" font-size="8.014" fill="#333333" stroke="#333333" stroke-width="0.1" transform="scale(1.0792,1)">0</text><line x1="29.3" y1="647.45" x2="31.7" y2="647.45" stroke="#555" stroke-width="0.8"/><text x="20.70" y="650.35" font-size="8.014" fill="#333333" stroke="#333333" stroke-width="0.1" transform="scale(1.0792,1)">5</text><line x1="29.3" y1="605.40" x2="31.7" y2="605.40" stroke="#555" stroke-width="0.8"/><text x="16.24 20.70" y="608.30" font-size="8.014" fill="#333333" stroke="#333333" stroke-width="0.1" transform="scale(1.0792,1)">10</text><line x1="29.3" y1="563.35" x2="31.7" y2="563.35" stroke="#555" stroke-width="0.8"/><text x="16.24 20.70" y="566.25" font-size="8.014" fill="#333333" stroke="#333333" stroke-width="0.1" transform="scale(1.0792,1)">15</text><line x1="29.3" y1="521.30" x2="31.7" y2="521.30" stroke="#555" stroke-width="0.8"/><text x="16.24 20.70" y="524.20" font-size="8.014" fill="#333333" stroke="#333333" stroke-width="0.1" transform="scale(1.0792,1)">20</text><line x1="29.3" y1="479.25" x2="31.7" y2="479.25" stroke="#555" stroke-width="0.8"/><text x="16.24 20.70" y="482.15" font-size="8.014" fill="#333333" stroke="#333333" stroke-width="0.1" transform="scale(1.0792,1)">25</text><line x1="29.3" y1="437.20" x2="31.7" y2="437.20" stroke="#555" stroke-width="0.8"/><text x="16.24 20.70" y="440.10" font-size="8.014" fill="#333333" stroke="#333333" stroke-width="0.1" transform="scale(1.0792,1)">30</text><text x="135.31 141.39 143.60 145.75 150.85 152.91 157.29 162.30 164.42 166.50 171.07 174.16 179.17 181.38 183.80 186.73 191.33 193.40 198.84 203.22 208.23 210.31" y="723.8" font-size="8.830" fill="#333333" stroke="#333333" stroke-width="0.1" transform="scale(1.0477,1)">Clinical Frailty Scale</text><g transform="translate(13.75,553.9) rotate(-90)"><text x="-61.48 -56.28 -51.22 -48.31 -41.93 -36.76 -32.06 -29.88 -25.08 -19.97 -17.69 -15.53 -10.42 -3.89 -1.14 5.18 10.30 12.71 18.83 24.53 30.51 36.12 38.30 43.88 48.38 53.54 56.57" y="0" font-size="8.830" fill="#333333" stroke="#333333" stroke-width="0.1" transform="scale(1.0191,1)">90-Day Follow-Up HADS Score</text></g><text x="-0.01 6.89 12.76 16.40 19.80 25.63 28.05 34.11 37.49 39.90 45.66 51.48 54.13 60.71 66.79 70.11 77.59 83.27 89.05 94.87 97.30 104.36 106.93 109.44 115.36 117.77 122.85 128.67 131.14 133.57 138.88 142.47 148.29 150.86 153.67 157.09 162.43 164.84 171.17 176.26 182.08 184.50 190.24 193.12 198.88 204.75 210.57 213.56 219.44 225.19 228.43 235.67 241.53 246.86 249.29 254.73 260.55 263.12 265.52 271.28 278.72 281.78 288.95 294.77 297.45 304.37 310.81 317.59 323.98 326.39 332.72 337.80 343.67 347.07" y="402.6" font-size="10.208" fill="#333333" stroke="#333333" stroke-width="0.1" transform="scale(1.0416,1)">Correlation Between Clinical Frailty Scale and 90-Day Follow-Up HADS Score</text><rect x="258.1" y="656.0" width="73.69999999999999" height="22.200000000000045" rx="2.2" fill="#fff" fill-opacity="0.5" stroke="#000" stroke-opacity="0.5" stroke-width="0.8"/><text x="245.24 251.13 256.14 259.24 262.28 264.86 267.38 272.36 274.89 279.89 284.90" y="664.8" font-size="8.830" fill="#333333" stroke="#333333" stroke-width="0.1" transform="scale(1.0589,1)">Corr: 0.205</text><text x="241.70 246.74 249.49 253.92 258.85 260.91 265.76 270.68 273.22 276.35 282.19 284.66 289.59 292.06 297.00 301.93" y="674.1" font-size="8.830" fill="#333333" stroke="#333333" stroke-width="0.1" transform="scale(1.0736,1)">P-value: &lt; 0.001</text><g fill="#1f77b4" fill-opacity="0.8"><circle cx="392.5" cy="420.2" r="2.45"/><circle cx="392.5" cy="420.2" r="2.45"/><circle cx="392.5" cy="432.6" r="2.45"/><circle cx="392.5" cy="434.1" r="2.45"/><circle cx="392.5" cy="462.8" r="2.45"/><circle cx="392.5" cy="522.7" r="2.45"/><circle cx="432.2" cy="420.2" r="2.45"/><circle cx="432.2" cy="420.2" r="2.45"/><circle cx="432.2" cy="426.1" r="2.45"/><circle cx="432.2" cy="429.7" r="2.45"/><circle cx="432.2" cy="432.6" r="2.45"/><circle cx="432.2" cy="434.8" r="2.45"/><circle cx="432.2" cy="436.7" r="2.45"/><circle cx="432.2" cy="442.4" r="2.45"/><circle cx="432.2" cy="449.0" r="2.45"/><circle cx="432.2" cy="462.8" r="2.45"/><circle cx="432.2" cy="472.5" r="2.45"/><circle cx="432.2" cy="549.4" r="2.45"/><circle cx="432.2" cy="575.2" r="2.45"/><circle cx="471.8" cy="420.2" r="2.45"/><circle cx="471.8" cy="420.2" r="2.45"/><circle cx="471.8" cy="426.4" r="2.45"/><circle cx="471.8" cy="432.9" r="2.45"/><circle cx="471.8" cy="432.9" r="2.45"/><circle cx="471.8" cy="439.2" r="2.45"/><circle cx="471.8" cy="448.7" r="2.45"/><circle cx="471.8" cy="450.9" r="2.45"/><circle cx="471.8" cy="453.1" r="2.45"/><circle cx="471.8" cy="456.4" r="2.45"/><circle cx="471.8" cy="462.6" r="2.45"/><circle cx="471.8" cy="466.2" r="2.45"/><circle cx="471.8" cy="472.0" r="2.45"/><circle cx="471.8" cy="472.0" r="2.45"/><circle cx="471.8" cy="479.3" r="2.45"/><circle cx="471.8" cy="481.5" r="2.45"/><circle cx="471.8" cy="484.2" r="2.45"/><circle cx="471.8" cy="494.0" r="2.45"/><circle cx="471.8" cy="498.0" r="2.45"/><circle cx="471.8" cy="525.8" r="2.45"/><circle cx="511.5" cy="420.2" r="2.45"/><circle cx="511.5" cy="420.2" r="2.45"/><circle cx="511.5" cy="426.5" r="2.45"/><circle cx="511.5" cy="426.5" r="2.45"/><circle cx="511.5" cy="432.9" r="2.45"/><circle cx="511.5" cy="432.9" r="2.45"/><circle cx="511.5" cy="436.3" r="2.45"/><circle cx="511.5" cy="439.2" r="2.45"/><circle cx="511.5" cy="439.2" r="2.45"/><circle cx="511.5" cy="442.8" r="2.45"/><circle cx="511.5" cy="449.7" r="2.45"/><circle cx="511.5" cy="453.1" r="2.45"/><circle cx="511.5" cy="456.4" r="2.45"/><circle cx="511.5" cy="462.6" r="2.45"/><circle cx="511.5" cy="462.6" r="2.45"/><circle cx="511.5" cy="469.9" r="2.45"/><circle cx="511.5" cy="472.5" r="2.45"/><circle cx="511.5" cy="472.5" r="2.45"/><circle cx="511.5" cy="476.0" r="2.45"/><circle cx="551.1" cy="420.2" r="2.45"/><circle cx="551.1" cy="432.6" r="2.45"/><circle cx="551.1" cy="432.6" r="2.45"/><circle cx="551.1" cy="434.1" r="2.45"/><circle cx="551.1" cy="438.9" r="2.45"/><circle cx="551.1" cy="442.4" r="2.45"/><circle cx="551.1" cy="442.4" r="2.45"/><circle cx="551.1" cy="446.8" r="2.45"/><circle cx="551.1" cy="466.2" r="2.45"/><circle cx="551.1" cy="472.5" r="2.45"/><circle cx="551.1" cy="472.5" r="2.45"/><circle cx="551.1" cy="479.8" r="2.45"/><circle cx="551.1" cy="485.2" r="2.45"/><circle cx="551.1" cy="490.6" r="2.45"/><circle cx="551.1" cy="490.6" r="2.45"/><circle cx="551.1" cy="493.9" r="2.45"/><circle cx="551.1" cy="493.9" r="2.45"/><circle cx="551.1" cy="504.2" r="2.45"/><circle cx="551.1" cy="504.5" r="2.45"/><circle cx="551.1" cy="549.9" r="2.45"/><circle cx="590.8" cy="420.1" r="2.45"/><circle cx="590.8" cy="432.8" r="2.45"/><circle cx="590.8" cy="432.8" r="2.45"/><circle cx="590.8" cy="439.1" r="2.45"/><circle cx="590.8" cy="439.1" r="2.45"/><circle cx="590.8" cy="456.6" r="2.45"/><circle cx="590.8" cy="461.7" r="2.45"/><circle cx="590.8" cy="463.0" r="2.45"/><circle cx="590.8" cy="472.6" r="2.45"/><circle cx="590.8" cy="481.9" r="2.45"/><circle cx="590.8" cy="493.8" r="2.45"/><circle cx="590.8" cy="493.8" r="2.45"/><circle cx="590.8" cy="526.3" r="2.45"/><circle cx="630.5" cy="420.1" r="2.45"/><circle cx="630.5" cy="420.1" r="2.45"/><circle cx="630.5" cy="429.6" r="2.45"/><circle cx="630.5" cy="432.5" r="2.45"/><circle cx="630.5" cy="434.9" r="2.45"/><circle cx="630.5" cy="439.7" r="2.45"/><circle cx="630.5" cy="442.1" r="2.45"/><circle cx="630.5" cy="446.1" r="2.45"/><circle cx="630.5" cy="448.5" r="2.45"/><circle cx="630.5" cy="451.0" r="2.45"/><circle cx="630.5" cy="453.0" r="2.45"/><circle cx="630.5" cy="462.7" r="2.45"/><circle cx="630.5" cy="478.6" r="2.45"/><circle cx="630.5" cy="487.1" r="2.45"/><circle cx="630.5" cy="513.6" r="2.45"/><circle cx="630.5" cy="537.3" r="2.45"/><circle cx="630.5" cy="631.3" r="2.45"/><circle cx="670.1" cy="420.1" r="2.45"/><circle cx="670.1" cy="420.1" r="2.45"/><circle cx="670.1" cy="430.1" r="2.45"/><circle cx="670.1" cy="430.1" r="2.45"/><circle cx="670.1" cy="433.8" r="2.45"/><circle cx="670.1" cy="442.6" r="2.45"/><circle cx="670.1" cy="444.5" r="2.45"/><circle cx="670.1" cy="446.9" r="2.45"/><circle cx="670.1" cy="449.8" r="2.45"/><circle cx="670.1" cy="453.0" r="2.45"/><circle cx="670.1" cy="456.6" r="2.45"/><circle cx="670.1" cy="462.7" r="2.45"/><circle cx="670.1" cy="466.2" r="2.45"/><circle cx="670.1" cy="472.6" r="2.45"/><circle cx="670.1" cy="480.7" r="2.45"/><circle cx="670.1" cy="483.9" r="2.45"/><circle cx="670.1" cy="487.1" r="2.45"/><circle cx="670.1" cy="490.3" r="2.45"/><circle cx="670.1" cy="519.6" r="2.45"/><circle cx="670.1" cy="541.3" r="2.45"/><circle cx="670.1" cy="546.5" r="2.45"/><circle cx="670.1" cy="572.6" r="2.45"/><circle cx="670.1" cy="595.3" r="2.45"/><circle cx="670.1" cy="608.4" r="2.45"/><circle cx="670.1" cy="612.3" r="2.45"/><circle cx="670.1" cy="618.0" r="2.45"/><circle cx="670.1" cy="624.0" r="2.45"/><circle cx="670.1" cy="645.7" r="2.45"/><circle cx="670.1" cy="689.3" r="2.45"/></g><path d="M392.50,428.54 L399.44,430.04 L406.38,431.53 L413.32,433.00 L420.26,434.46 L427.20,435.91 L434.14,437.33 L441.08,438.74 L448.02,440.12 L454.96,441.47 L461.90,442.79 L468.85,444.07 L475.79,445.32 L482.73,446.51 L489.67,447.66 L496.61,448.76 L503.55,449.81 L510.49,450.80 L517.43,451.75 L524.37,452.65 L531.31,453.50 L538.25,454.32 L545.19,455.10 L552.13,455.85 L559.07,456.57 L566.01,457.27 L572.95,457.95 L579.89,458.61 L586.83,459.25 L593.77,459.88 L600.71,460.50 L607.66,461.11 L614.60,461.71 L621.54,462.30 L628.48,462.88 L635.42,463.46 L642.36,464.03 L649.30,464.60 L656.24,465.16 L663.18,465.72 L670.12,466.28 L670.12,495.13 L663.18,493.59 L656.24,492.05 L649.30,490.51 L642.36,488.98 L635.42,487.46 L628.48,485.93 L621.54,484.42 L614.60,482.91 L607.66,481.41 L600.71,479.92 L593.77,478.44 L586.83,476.97 L579.89,475.51 L572.95,474.07 L566.01,472.65 L559.07,471.25 L552.13,469.88 L545.19,468.53 L538.25,467.21 L531.31,465.92 L524.37,464.68 L517.43,463.48 L510.49,462.33 L503.55,461.22 L496.61,460.17 L489.67,459.17 L482.73,458.22 L475.79,457.32 L468.85,456.46 L461.90,455.64 L454.96,454.86 L448.02,454.12 L441.08,453.40 L434.14,452.70 L427.20,452.03 L420.26,451.38 L413.32,450.74 L406.38,450.11 L399.44,449.50 L392.50,448.90 Z" fill="#ff0000" fill-opacity="0.15"/><line x1="392.50" y1="438.72" x2="670.12" y2="480.71" stroke="#ff0000" stroke-width="1.6"/><path d="M379.1,406.4 V703.4 M684.5,406.4 V703.4 M378.6,406.9 H685.0 M378.6,702.9 H685.0" fill="none" stroke="#555" stroke-width="0.95"/><line x1="392.50" y1="702.9" x2="392.50" y2="705.3" stroke="#555" stroke-width="0.8"/><text x="361.46" y="713.2" font-size="8.014" fill="#333333" stroke="#333333" stroke-width="0.1" transform="scale(1.0792,1)">1</text><line x1="432.16" y1="702.9" x2="432.16" y2="705.3" stroke="#555" stroke-width="0.8"/><text x="398.20" y="713.2" font-size="8.014" fill="#333333" stroke="#333333" stroke-width="0.1" transform="scale(1.0792,1)">2</text><line x1="471.82" y1="702.9" x2="471.82" y2="705.3" stroke="#555" stroke-width="0.8"/><text x="434.95" y="713.2" font-size="8.014" fill="#333333" stroke="#333333" stroke-width="0.1" transform="scale(1.0792,1)">3</text><line x1="511.48" y1="702.9" x2="511.48" y2="705.3" stroke="#555" stroke-width="0.8"/><text x="471.70" y="713.2" font-size="8.014" fill="#333333" stroke="#333333" stroke-width="0.1" transform="scale(1.0792,1)">4</text><line x1="551.14" y1="702.9" x2="551.14" y2="705.3" stroke="#555" stroke-width="0.8"/><text x="508.45" y="713.2" font-size="8.014" fill="#333333" stroke="#333333" stroke-width="0.1" transform="scale(1.0792,1)">5</text><line x1="590.80" y1="702.9" x2="590.80" y2="705.3" stroke="#555" stroke-width="0.8"/><text x="545.20" y="713.2" font-size="8.014" fill="#333333" stroke="#333333" stroke-width="0.1" transform="scale(1.0792,1)">6</text><line x1="630.46" y1="702.9" x2="630.46" y2="705.3" stroke="#555" stroke-width="0.8"/><text x="581.95" y="713.2" font-size="8.014" fill="#333333" stroke="#333333" stroke-width="0.1" transform="scale(1.0792,1)">7</text><line x1="670.12" y1="702.9" x2="670.12" y2="705.3" stroke="#555" stroke-width="0.8"/><text x="618.69" y="713.2" font-size="8.014" fill="#333333" stroke="#333333" stroke-width="0.1" transform="scale(1.0792,1)">8</text><line x1="376.70000000000005" y1="692.50" x2="379.1" y2="692.50" stroke="#555" stroke-width="0.8"/><text x="335.95 340.41 342.63" y="695.40" font-size="8.014" fill="#333333" stroke="#333333" stroke-width="0.1" transform="scale(1.0793,1)">0.0</text><line x1="376.70000000000005" y1="632.22" x2="379.1" y2="632.22" stroke="#555" stroke-width="0.8"/><text x="335.95 340.41 342.63" y="635.12" font-size="8.014" fill="#333333" stroke="#333333" stroke-width="0.1" transform="scale(1.0793,1)">0.2</text><line x1="376.70000000000005" y1="571.94" x2="379.1" y2="571.94" stroke="#555" stroke-width="0.8"/><text x="335.95 340.41 342.63" y="574.84" font-size="8.014" fill="#333333" stroke="#333333" stroke-width="0.1" transform="scale(1.0793,1)">0.4</text><line x1="376.70000000000005" y1="511.66" x2="379.1" y2="511.66" stroke="#555" stroke-width="0.8"/><text x="335.95 340.41 342.63" y="514.56" font-size="8.014" fill="#333333" stroke="#333333" stroke-width="0.1" transform="scale(1.0793,1)">0.6</text><line x1="376.70000000000005" y1="451.38" x2="379.1" y2="451.38" stroke="#555" stroke-width="0.8"/><text x="335.95 340.41 342.63" y="454.28" font-size="8.014" fill="#333333" stroke="#333333" stroke-width="0.1" transform="scale(1.0793,1)">0.8</text><text x="466.98 473.06 475.27 477.42 482.52 484.58 488.96 493.97 496.09 498.17 502.74 505.83 510.84 513.05 515.47 518.40 523.00 525.07 530.51 534.89 539.90 541.98" y="723.8" font-size="8.830" fill="#333333" stroke="#333333" stroke-width="0.1" transform="scale(1.0477,1)">Clinical Frailty Scale</text><g transform="translate(358.8,554.2) rotate(-90)"><text x="-56.53 -51.36 -46.32 -43.44 -37.08 -31.93 -27.25 -25.09 -20.31 -15.22 -12.96 -10.82 -5.74 0.78 3.50 9.79 14.90 17.04 22.32 29.18 32.25 37.23 43.55 46.62 51.47" y="0" font-size="8.830" fill="#333333" stroke="#333333" stroke-width="0.1" transform="scale(1.0242,1)">90-Day Follow-Up EQ-5D-5L</text></g><text x="360.61 367.47 373.31 376.93 380.30 386.11 388.50 394.54 397.90 400.28 406.01 411.80 414.43 420.97 427.02 430.31 437.74 443.40 449.13 454.93 457.33 464.36 466.92 469.40 475.30 477.68 482.73 488.53 490.98 493.39 498.67 502.24 508.03 510.58 513.38 516.77 522.08 524.47 530.76 535.82 541.62 544.02 549.72 552.58 558.31 564.13 569.93 572.90 578.74 584.46 587.67 594.87 600.69 606.01 608.38 614.34 622.14 625.58 631.19 638.38 641.82 647.30" y="402.6" font-size="10.208" fill="#333333" stroke="#333333" stroke-width="0.1" transform="scale(1.0480,1)">Correlation Between Clinical Frailty Scale and 90-Day EQ-5D-5L</text><rect x="605.3" y="656.0" width="64.0" height="22.200000000000045" rx="2.2" fill="#fff" fill-opacity="0.5" stroke="#000" stroke-opacity="0.5" stroke-width="0.8"/><text x="574.01 579.91 584.92 588.03 591.08 593.66 596.09 599.04 604.03 606.56 611.58 616.59" y="664.8" font-size="8.830" fill="#333333" stroke="#333333" stroke-width="0.1" transform="scale(1.0566,1)">Corr: -0.298</text><text x="578.58 583.71 586.54 591.08 596.10 598.25 603.21 608.22 610.82 613.39 618.41 620.97 626.03 631.08" y="674.1" font-size="8.830" fill="#333333" stroke="#333333" stroke-width="0.1" transform="scale(1.0480,1)">P-value: 0.008</text><text x="345.1" y="368.9" font-size="15.8" text-anchor="middle" fill="#111" stroke="#111" stroke-width="0.1" textLength="18.4" lengthAdjust="spacingAndGlyphs">(A)</text><text x="345.3" y="763.1" font-size="15.8" text-anchor="middle" fill="#111" stroke="#111" stroke-width="0.1" textLength="18.2" lengthAdjust="spacingAndGlyphs">(B)</text></svg></body></html>
